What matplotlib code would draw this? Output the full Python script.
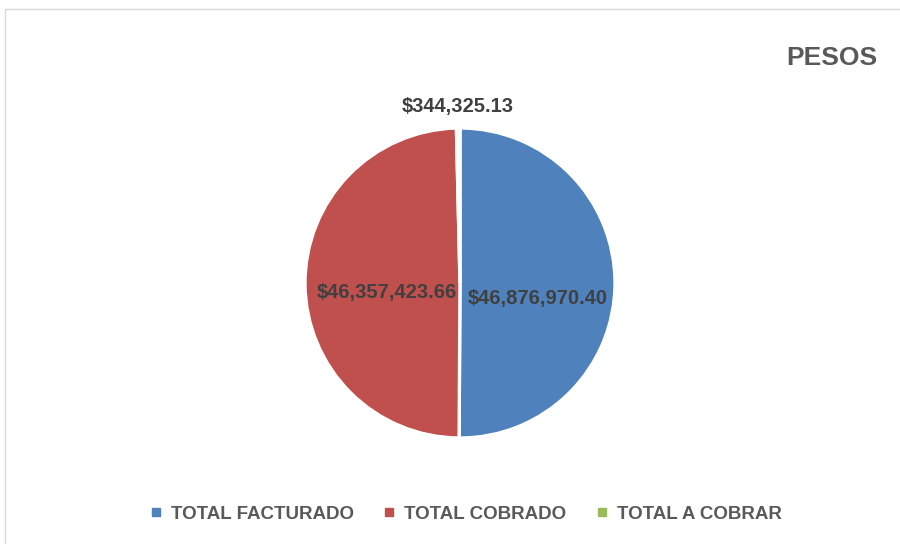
import numpy as np
import matplotlib

matplotlib.use("Agg")
import matplotlib.pyplot as plt
from matplotlib.lines import Line2D
from matplotlib.patches import Rectangle

CATEGORIES = ["TOTAL FACTURADO", "TOTAL COBRADO", "TOTAL A COBRAR"]
VALUES = [46876970.40, 46357423.66, 344325.13]
LABELS = ["$46,876,970.40", "$46,357,423.66", "$344,325.13"]
COLORS = ["#4f81bd", "#c0504d", "#9bbb59"]
LABEL_DIST = [0.50, 0.47, 1.14]
LABEL_DY = [-0.10, -0.06, 0.0]

plt.rcParams["font.family"] = ["Liberation Sans", "DejaVu Sans"]

W, H = 900, 544
fig = plt.figure(figsize=(W / 100, H / 100), dpi=100)

# marco gris del área de gráfico
fig.patches.append(Rectangle((5 / W, -0.1), 1.2, 1 - 9 / H + 0.1,
                             transform=fig.transFigure, fill=False,
                             edgecolor="#d9d9d9", linewidth=1.0))

cx, cy, r = 460, 283, 155
ax = fig.add_axes([(cx - r) / W, (H - cy - r) / H, 2 * r / W, 2 * r / H])
wedges, _ = ax.pie(VALUES, colors=COLORS, startangle=90, counterclock=False,
                   wedgeprops=dict(edgecolor="white", linewidth=2.4))
ax.set_xlim(-1, 1)
ax.set_ylim(-1, 1)
ax.set_aspect("equal")
ax.axis("off")

for w, lab, d, dy in zip(wedges, LABELS, LABEL_DIST, LABEL_DY):
  ang = np.deg2rad((w.theta1 + w.theta2) / 2)
  x, y = d * np.cos(ang), d * np.sin(ang) + dy
  ax.text(x, y, lab, ha="center", va="center", fontsize=14.5,
          fontweight="bold", color="#404040", clip_on=False)

fig.text(877 / W, 1 - 58 / H, "PESOS", ha="right", va="center",
         fontsize=19, fontweight="bold", color="#595959")

handles = [Line2D([], [], marker="s", linestyle="none", markersize=6,
                  markerfacecolor=c, markeredgecolor=c) for c in COLORS]
fig.legend(handles, CATEGORIES, loc="center", ncol=3,
           bbox_to_anchor=(466 / W, 1 - 514 / H), frameon=False,
           prop=dict(size=13.5, weight="bold"), labelcolor="#595959",
           handlelength=0.6, handletextpad=0.5, columnspacing=1.6)

fig.savefig("out.png", dpi=100, facecolor="white")
